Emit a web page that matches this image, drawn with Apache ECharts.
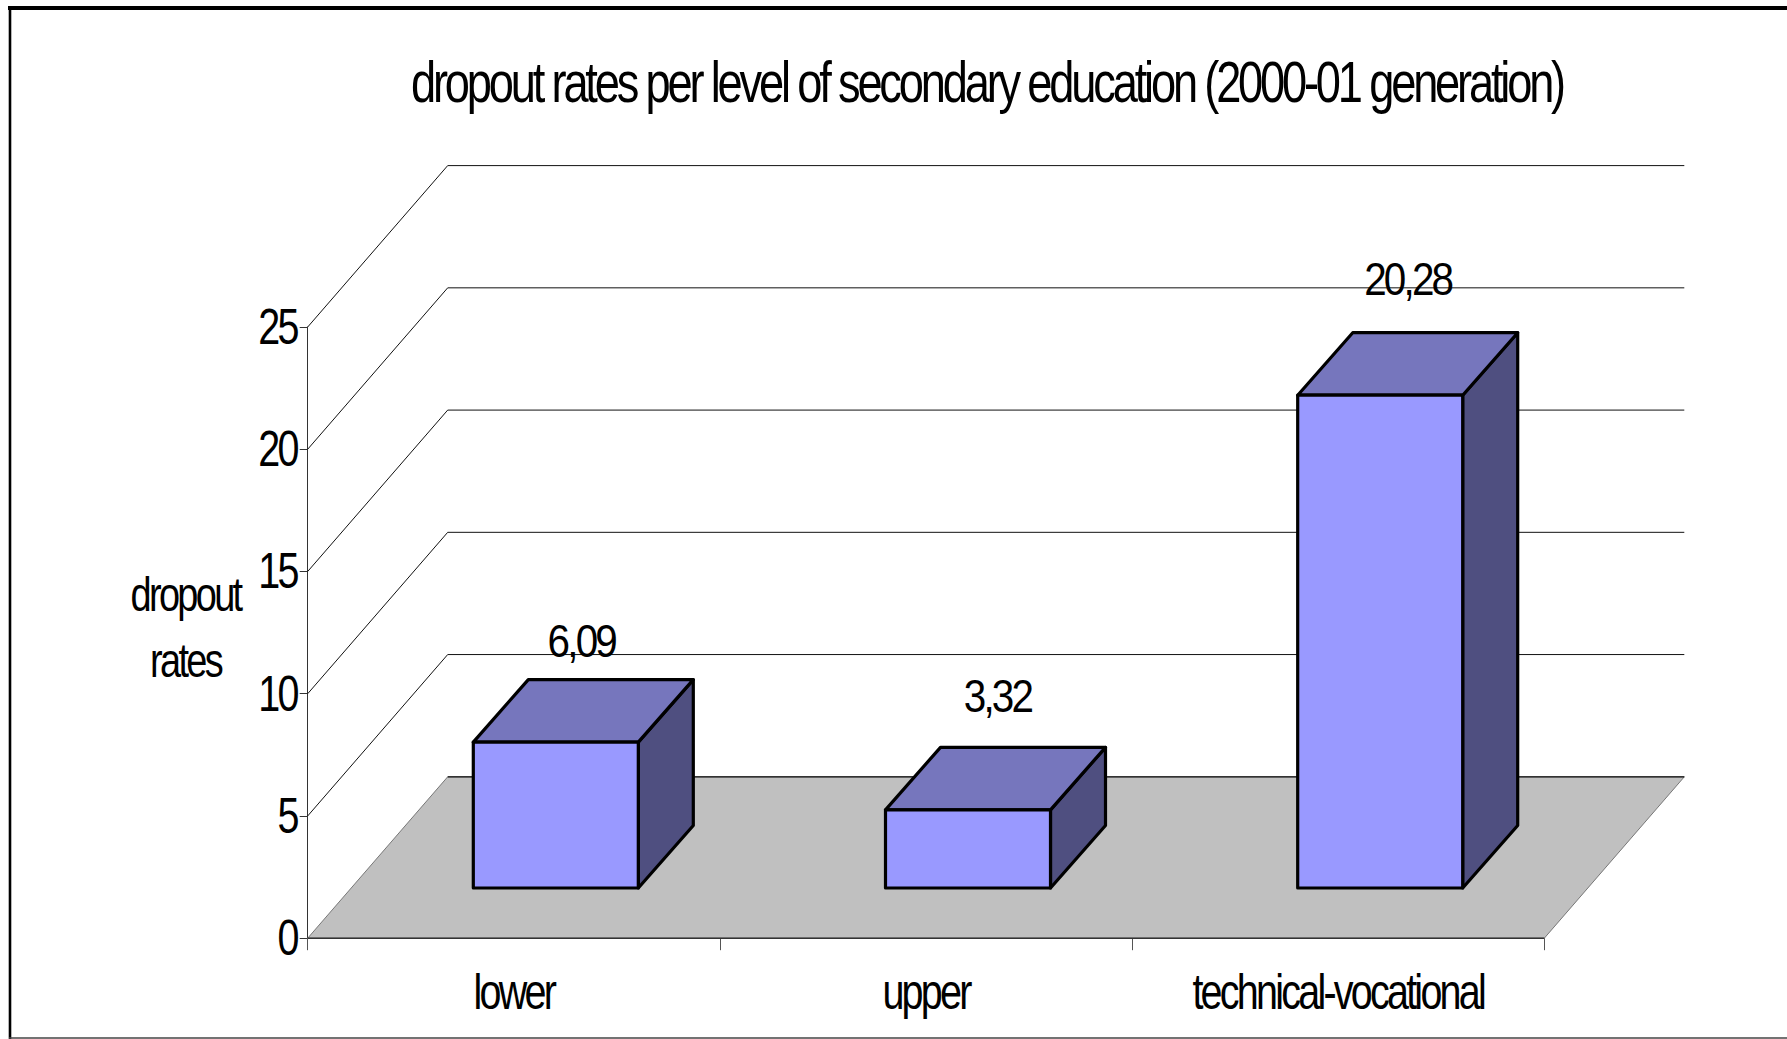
<!DOCTYPE html>
<html><head><meta charset="utf-8">
<style>
html,body{margin:0;padding:0;background:#fff;overflow:hidden}
#c{width:1787px;height:1039px}
#c text{letter-spacing:-0.07em}
</style>
<script src="https://cdn.jsdelivr.net/npm/echarts@6/dist/echarts.min.js"></script>
</head><body><div id="c"></div>
<script>
const categories = ['lower','upper','technical-vocational'];
const dropoutRates = [6.09,3.32,20.28];
const yTickValues = [5,10,15,20,25];
const titleText = 'dropout rates per level of secondary education (2000-01 generation)';
const yAxisTitle = 'dropout\nrates';

const FONT = '"Liberation Sans",Arial,sans-serif';
const WALL_DX = 140, WALL_DY = 161.4;
const BAR_SHIFT_X = 42, BAR_SHIFT_Y = 50.2, BAR_W = 165, BAR_DX = 55, BAR_DY = 62.5, BAR_TOP_INSET = 3;
const LABEL_LIFT = [16,28,31], LABEL_DX = [25.5,29.5,27.5];
const SQUEEZE = 0.79, SQUEEZE_VALUE = 0.86, SQUEEZE_TITLE = 0.779;

const chart = echarts.init(document.getElementById('c'), null, {renderer:'svg', width:1787, height:1039});

function wallItem(params, api){
  const cs = params.coordSys;
  const v = api.value(0);
  const y = api.coord([0, v])[1];
  const x0 = cs.x, x1 = x0 + WALL_DX, x2 = cs.x + cs.width + WALL_DX;
  const ln = (a,b,c,d)=>({type:'line',shape:{x1:a,y1:b,x2:c,y2:d},style:{stroke:'#111',lineWidth:1,fill:null}});
  return {type:'group',children:[ln(x0,y,x1,y-WALL_DY),ln(x1,y-WALL_DY,x2,y-WALL_DY)]};
}
function floorItem(params, api){
  const cs = params.coordSys;
  const y0 = api.coord([0,0])[1], xl = cs.x, xr = cs.x + cs.width;
  return {type:'group',children:[
    {type:'polygon',shape:{points:[[xl,y0],[xr,y0],[xr+WALL_DX,y0-WALL_DY],[xl+WALL_DX,y0-WALL_DY]]},
     style:{fill:'#c0c0c0',stroke:'#777',lineWidth:1}},
    {type:'line',shape:{x1:xl+WALL_DX,y1:y0-WALL_DY,x2:xr+WALL_DX,y2:y0-WALL_DY},style:{stroke:'#111',lineWidth:1.2}},
    {type:'line',shape:{x1:xl,y1:y0,x2:xr,y2:y0},style:{stroke:'#333',lineWidth:1.5}}
  ]};
}
function barItem(params, api){
  const i = params.dataIndex;
  const c = api.coord([api.value(0), 0]);
  const t = api.coord([api.value(0), api.value(1)]);
  const cx = c[0] + BAR_SHIFT_X;
  const L = cx - BAR_W/2, R = cx + BAR_W/2;
  const B = c[1] - BAR_SHIFT_Y, H = c[1] - t[1] - BAR_TOP_INSET, T = B - H;
  const stroke = {stroke:'#000',lineWidth:3.2,lineJoin:'round'};
  return {type:'group',children:[
    {type:'polygon',shape:{points:[[R,B],[R+BAR_DX,B-BAR_DY],[R+BAR_DX,T-BAR_DY],[R,T]]},style:{fill:'#4f4f80',...stroke}},
    {type:'polygon',shape:{points:[[L,T],[R,T],[R+BAR_DX,T-BAR_DY],[L+BAR_DX,T-BAR_DY]]},style:{fill:'#7676bd',...stroke}},
    {type:'rect',shape:{x:L,y:T,width:BAR_W,height:H},style:{fill:'#9999ff',...stroke}},
    {type:'text',style:{text:String(api.value(1)).replace('.',','),x:cx+LABEL_DX[i],y:T-BAR_DY-LABEL_LIFT[i],
      textAlign:'center',textVerticalAlign:'bottom',font:'47px '+FONT,fill:'#000'}}
  ]};
}

chart.setOption({
  animation:false,
  backgroundColor:'#fff',
  title:{text:titleText,left:982,top:47,textAlign:'center',
    textStyle:{fontFamily:FONT,fontSize:58,fontWeight:'normal',color:'#000'}},
  grid:{left:307.7,top:327,width:1236.6,height:611.2,containLabel:false},
  xAxis:{type:'category',data:categories,
    axisLine:{show:false},
    axisTick:{show:true,length:12,lineStyle:{color:'#555',width:1}},
    axisLabel:{interval:0,margin:29,fontFamily:FONT,fontSize:50,color:'#000'},
    splitLine:{show:false}},
  yAxis:{type:'value',min:0,max:25,interval:5,
    axisLine:{show:true,lineStyle:{color:'#333',width:1}},
    axisTick:{show:true,length:8,lineStyle:{color:'#333',width:1}},
    axisLabel:{margin:11,fontFamily:FONT,fontSize:50,color:'#000'},
    splitLine:{show:false}},
  graphic:[
    {type:'line',silent:true,shape:{x1:8,y1:8,x2:1787,y2:8},style:{stroke:'#000',lineWidth:4}},
    {type:'line',silent:true,shape:{x1:10,y1:6,x2:10,y2:1039},style:{stroke:'#000',lineWidth:2.6}},
    {type:'line',silent:true,shape:{x1:9,y1:1038,x2:1787,y2:1038},style:{stroke:'#444',lineWidth:1.6}},
    {type:'text',silent:true,style:{text:yAxisTitle,x:185.5,y:627.5,textAlign:'center',textVerticalAlign:'middle',
      font:'48px '+FONT,lineHeight:66,fill:'#000'}}
  ],
  series:[
    {type:'custom',name:'floor',z:1,data:[[0]],renderItem:floorItem,silent:true,clip:false},
    {type:'custom',name:'walls',z:2,data:yTickValues.map(v=>[v]),renderItem:wallItem,silent:true,clip:false,encode:{y:0}},
    {type:'custom',name:'dropout rates',z:3,data:dropoutRates.map((v,i)=>[i,v]),renderItem:barItem,clip:false,encode:{x:0,y:1}}
  ]
});

// No condensed face is installed: squeeze each rendered text to the reference's narrow look.
function squeezeTexts(){
  document.querySelectorAll('#c text').forEach(t=>{
    if (t.getAttribute('lengthAdjust')) return;
    const w = t.getComputedTextLength();
    const s = t.textContent;
    const k = s === titleText ? SQUEEZE_TITLE : (s.indexOf(',') >= 0 ? SQUEEZE_VALUE : SQUEEZE);
    t.setAttribute('textLength', (w*k).toFixed(1));
    t.setAttribute('lengthAdjust','spacingAndGlyphs');
  });
}
squeezeTexts();
chart.on('finished', squeezeTexts);
</script></body></html>
